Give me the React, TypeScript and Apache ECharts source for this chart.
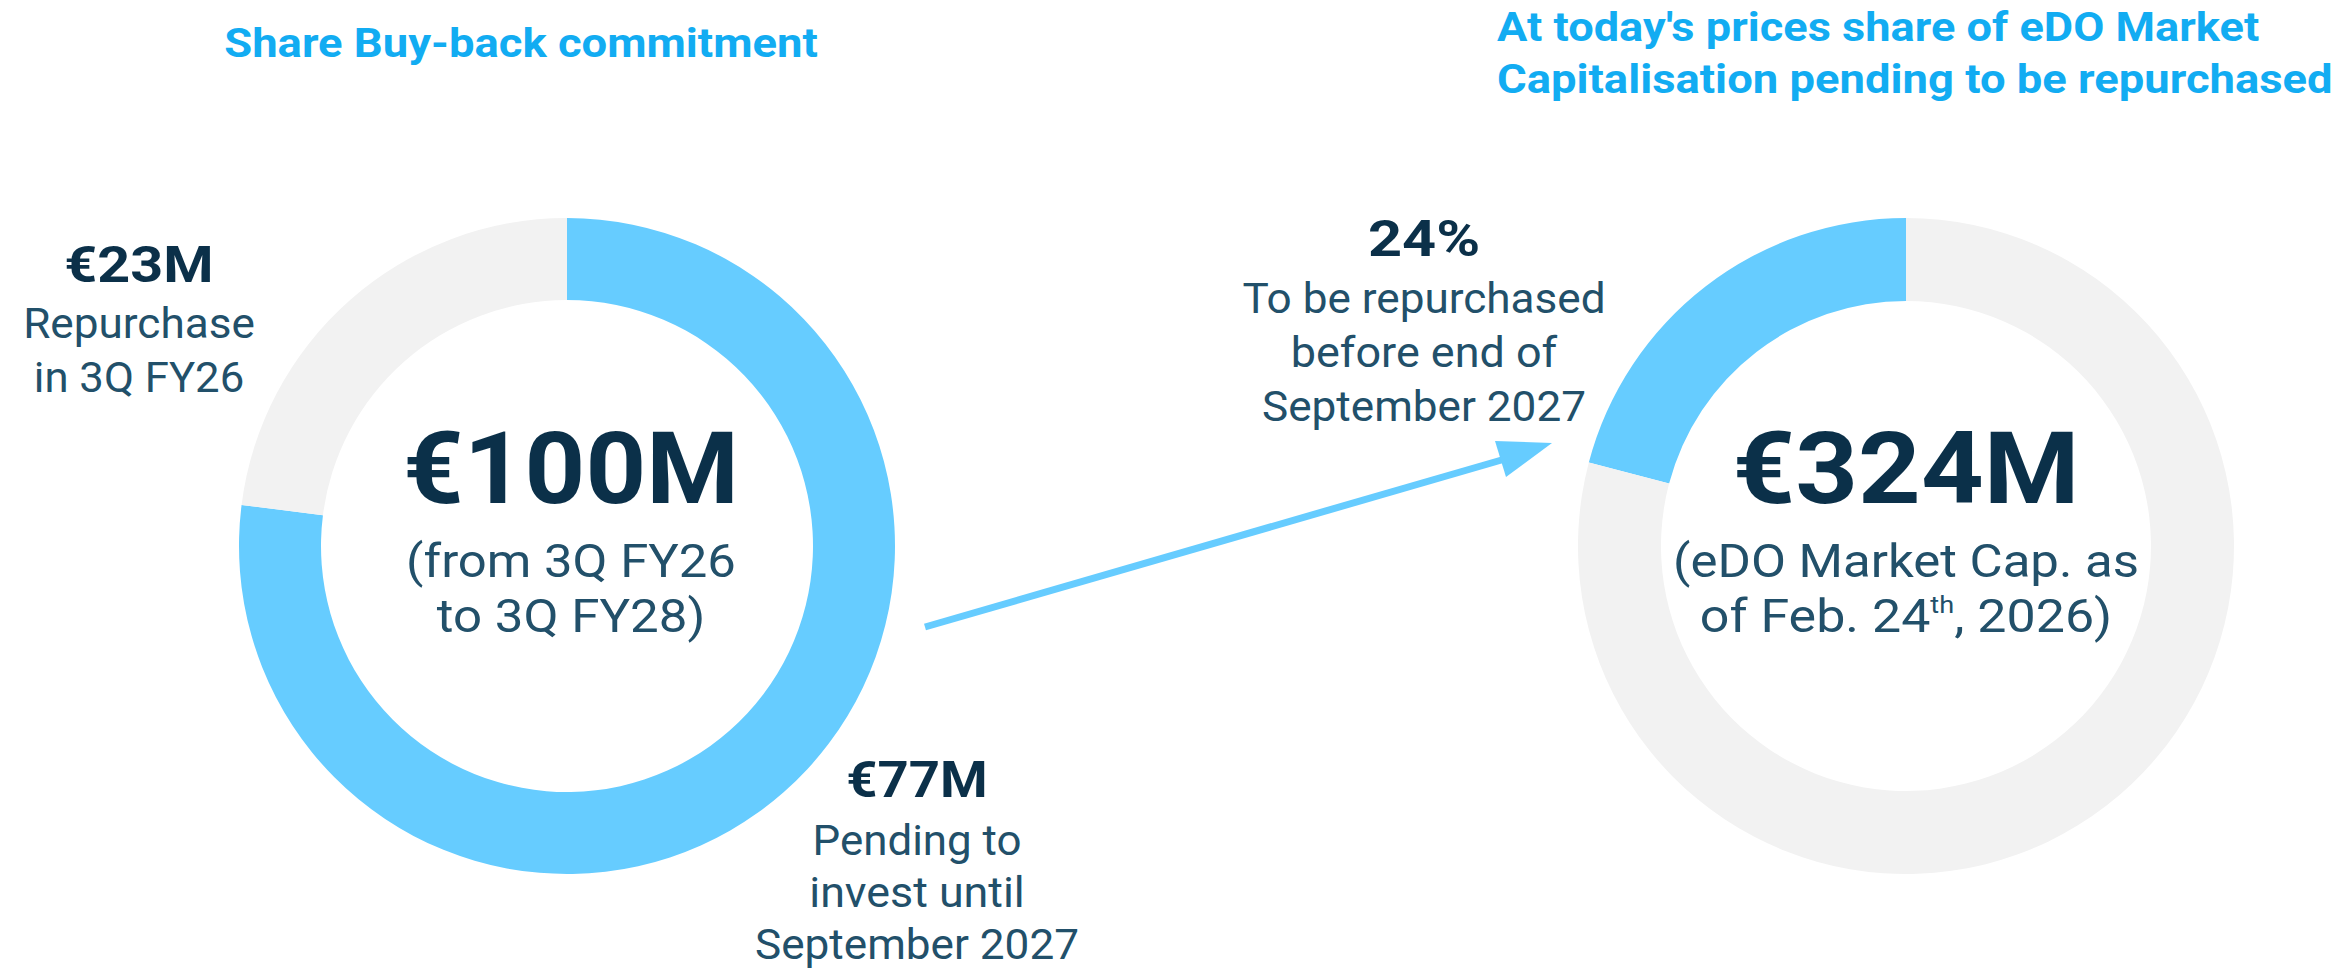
import React, { useEffect, useRef } from "react";
import * as echarts from "echarts";

// ---- data ----
const leftTitle = "Share Buy-back commitment";
const rightTitleLines = ["At today's prices share of eDO Market", "Capitalisation pending to be repurchased"];

const commitmentNames = ["Pending to invest until September 2027", "Repurchase in 3Q FY26"];
const commitmentValues = [77, 23]; // € millions
const commitmentTotalLabel = "€100M";
const commitmentSubLines = ["(from 3Q FY26", "to 3Q FY28)"];

const marketCapNames = ["To be repurchased before end of September 2027", "Rest of market capitalisation"];
const marketCapShares = [20.9, 79.1]; // drawn share of the ring, in %
const marketCapTotalLabel = "€324M";
const marketCapSubLine1 = "(eDO Market Cap. as";
const marketCapSubLine2 = "of Feb. 24{sup|th}, 2026)";

const repurchasedLabel = "€23M";
const repurchasedLines = ["Repurchase", "in 3Q FY26"];
const pendingLabel = "€77M";
const pendingLines = ["Pending to", "invest until", "September 2027"];
const shareLabel = "24%";
const shareLines = ["To be repurchased", "before end of", "September 2027"];

const BLUE = "#66CCFF";
const GREY = "#F2F2F2";
const NAVY = "#0B3049";
const TEXT = "#22506A";
const TITLE = "#12ACF2";
const FONT = "Roboto, 'Open Sans', sans-serif";

export default function App() {
  const ref = useRef<HTMLDivElement>(null);
  useEffect(() => {
    document.body.style.margin = "0";
    const chart = echarts.init(ref.current!, null, { renderer: "svg" });

    const txt = (
      x: number,
      y: number,
      text: string,
      size: number,
      weight: any,
      color: string,
      sx = 1,
      align = "center",
      extra: any = {}
    ) => ({
      type: "text",
      x,
      y,
      scaleX: sx,
      silent: true,
      style: {
        text,
        fontSize: size,
        fontWeight: weight,
        fontFamily: FONT,
        fill: color,
        align,
        verticalAlign: "middle",
        ...extra,
      },
    });

    const lines = (x: number, y0: number, arr: string[], step: number, size: number, sx: number[]) =>
      arr.map((s, i) => txt(x, y0 + i * step, s, size, "normal", TEXT, sx[i]));

    chart.setOption({
      animation: false,
      backgroundColor: "#ffffff",
      series: [
        {
          type: "pie",
          silent: true,
          center: [567, 546],
          radius: [246, 328],
          startAngle: 90,
          clockwise: true,
          label: { show: false },
          labelLine: { show: false },
          itemStyle: { borderWidth: 0 },
          data: commitmentNames.map((n, i) => ({
            name: n,
            value: commitmentValues[i],
            itemStyle: { color: i === 0 ? BLUE : GREY },
          })),
        },
        {
          type: "pie",
          silent: true,
          center: [1906, 546],
          radius: [245, 328],
          startAngle: 90,
          clockwise: false,
          label: { show: false },
          labelLine: { show: false },
          itemStyle: { borderWidth: 0 },
          data: marketCapNames.map((n, i) => ({
            name: n,
            value: marketCapShares[i],
            itemStyle: { color: i === 0 ? BLUE : GREY },
          })),
        },
      ],
      graphic: [
        txt(521, 43, leftTitle, 40, "bold", TITLE, 1.135),
        txt(1497, 27, rightTitleLines[0], 40, "bold", TITLE, 1.13, "left"),
        txt(1497, 79, rightTitleLines[1], 40, "bold", TITLE, 1.135, "left"),
        // left side labels
        txt(139, 265, repurchasedLabel, 50, "bold", NAVY, 1.15),
        ...lines(139, 324, repurchasedLines, 53, 42, [1.05, 1.04]),
        // left center
        txt(571, 469, commitmentTotalLabel, 100, "bold", NAVY, 1.06),
        ...lines(571, 561, commitmentSubLines, 55, 46, [1.105, 1.11]),
        // pending
        txt(917, 780, pendingLabel, 50, "bold", NAVY, 1.09),
        ...lines(917, 840, pendingLines, 52.5, 42, [1.045, 1.067, 1.05]),
        // share
        txt(1424, 239, shareLabel, 50, "bold", NAVY, 1.19),
        ...lines(1424, 299, shareLines, 54, 42, [1.05, 1.07, 1.05]),
        // right center
        txt(1906, 469, marketCapTotalLabel, 100, "bold", NAVY, 1.095),
        txt(1906, 561, marketCapSubLine1, 46, "normal", TEXT, 1.107),
        {
          type: "text",
          x: 1906,
          y: 616,
          scaleX: 1.13,
          silent: true,
          style: {
            text: marketCapSubLine2,
            fontSize: 46,
            fontFamily: FONT,
            fill: TEXT,
            align: "center",
            verticalAlign: "middle",
            rich: {
              sup: { fontSize: 24, fontFamily: FONT, fill: TEXT, verticalAlign: "top", padding: [0, 0, 18, 0] },
            },
          },
        },
        // arrow
        {
          type: "line",
          silent: true,
          shape: { x1: 925, y1: 627, x2: 1505, y2: 459 },
          style: { stroke: BLUE, lineWidth: 7 },
        },
        {
          type: "polygon",
          silent: true,
          shape: { points: [[1495, 441], [1552, 443], [1506, 477]] },
          style: { fill: BLUE },
        },
      ],
    });
    return () => chart.dispose();
  }, []);
  return <div ref={ref} style={{ position: "fixed", left: 0, top: 0, width: 2344, height: 970 }} />;
}
